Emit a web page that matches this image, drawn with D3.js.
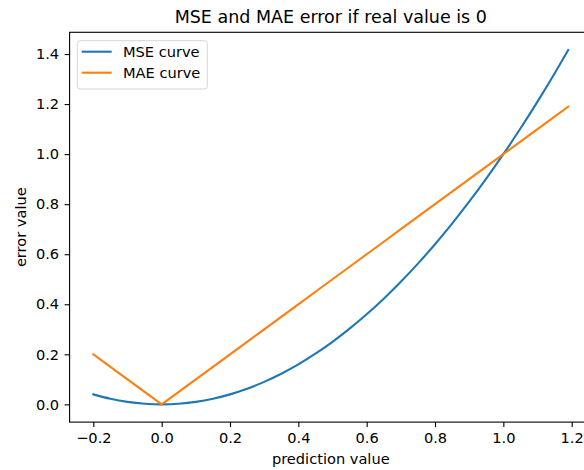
<!DOCTYPE html>
<html>
<head>
<meta charset="utf-8">
<script src="https://cdn.jsdelivr.net/npm/d3@7"></script>
<style>
  html, body { margin: 0; padding: 0; background: #fff; }
  svg { display: block; font-family: "DejaVu Sans", sans-serif; }
</style>
</head>
<body>
<svg id="chart" width="584" height="470"></svg>
<script>
// prediction values (real value is 0)
const predictions = [-0.2, -0.15, -0.1, -0.05, 0, 0.05, 0.1, 0.15, 0.2, 0.25, 0.3, 0.35, 0.4, 0.45,
  0.5, 0.55, 0.6, 0.65, 0.7, 0.75, 0.8, 0.85, 0.9, 0.95, 1.0, 1.05, 1.1, 1.15, 1.19];
// squared error for each prediction
const mseValues = [0.04, 0.0225, 0.01, 0.0025, 0, 0.0025, 0.01, 0.0225, 0.04, 0.0625, 0.09, 0.1225,
  0.16, 0.2025, 0.25, 0.3025, 0.36, 0.4225, 0.49, 0.5625, 0.64, 0.7225, 0.81, 0.9025, 1.0, 1.1025,
  1.21, 1.3225, 1.4161];
// absolute error for each prediction
const maeValues = [0.2, 0.15, 0.1, 0.05, 0, 0.05, 0.1, 0.15, 0.2, 0.25, 0.3, 0.35, 0.4, 0.45, 0.5,
  0.55, 0.6, 0.65, 0.7, 0.75, 0.8, 0.85, 0.9, 0.95, 1.0, 1.05, 1.1, 1.15, 1.19];
const seriesNames = ["MSE curve", "MAE curve"];
const seriesColors = ["#1f77b4", "#ff7f0e"];
const xTicks = [-0.2, 0.0, 0.2, 0.4, 0.6, 0.8, 1.0, 1.2];
const yTicks = [0.0, 0.2, 0.4, 0.6, 0.8, 1.0, 1.2, 1.4];
const titleText = "MSE and MAE error if real value is 0";
const xLabelText = "prediction value";
const yLabelText = "error value";

const svg = d3.select("#chart");
const plot = { left: 69.6, right: 592, top: 32.3, bottom: 422.1 };
const fontSize = 14.6;

// axis limits padded by 5% like the usual auto-scaling
function padded(values) {
  const [lo, hi] = d3.extent(values);
  const m = (hi - lo) * 0.05;
  return [lo - m, hi + m];
}
const x = d3.scaleLinear().domain(padded(predictions)).range([plot.left, plot.right]);
const y = d3.scaleLinear().domain(padded(mseValues.concat(maeValues))).range([plot.bottom, plot.top]);

const fmt = v => d3.format(".1f")(v).replace("-", "\u2212");

// x axis
const xAxis = svg.append("g")
  .attr("transform", `translate(0,${plot.bottom})`)
  .call(d3.axisBottom(x).tickValues(xTicks).tickFormat(fmt).tickSize(5).tickPadding(5.5));
// y axis
const yAxis = svg.append("g")
  .attr("transform", `translate(${plot.left},0)`)
  .call(d3.axisLeft(y).tickValues(yTicks).tickFormat(fmt).tickSize(5).tickPadding(5.5));

[xAxis, yAxis].forEach(g => {
  g.select(".domain").remove();
  g.selectAll(".tick line").attr("stroke", "#000").attr("stroke-width", 1.1);
  g.selectAll(".tick text").attr("fill", "#000")
    .style("font-family", "DejaVu Sans").style("font-size", fontSize + "px");
});

// lines: the squared error is a smooth parabola, the absolute error has a sharp kink at 0
const curves = [d3.curveMonotoneX, d3.curveLinear];
[mseValues, maeValues].forEach((vals, i) => {
  const line = d3.line()
    .curve(curves[i])
    .x((d, j) => x(predictions[j]))
    .y(d => y(d));
  svg.append("path")
    .attr("d", line(vals))
    .attr("fill", "none")
    .attr("stroke", seriesColors[i])
    .attr("stroke-width", 2.1)
    .attr("stroke-linejoin", "round")
    .attr("stroke-linecap", "square");
});

// axes frame
svg.append("rect")
  .attr("x", plot.left).attr("y", plot.top)
  .attr("width", plot.right - plot.left).attr("height", plot.bottom - plot.top)
  .attr("fill", "none").attr("stroke", "#000").attr("stroke-width", 1.1);

// title
svg.append("text")
  .attr("x", (plot.left + plot.right) / 2).attr("y", 22.5)
  .attr("text-anchor", "middle")
  .style("font-size", "17.5px")
  .text(titleText);

// axis labels
svg.append("text")
  .attr("x", (plot.left + plot.right) / 2).attr("y", 464)
  .attr("text-anchor", "middle")
  .style("font-size", fontSize + "px")
  .text(xLabelText);
svg.append("text")
  .attr("transform", `translate(26,${(plot.top + plot.bottom) / 2}) rotate(-90)`)
  .attr("text-anchor", "middle")
  .style("font-size", fontSize + "px")
  .text(yLabelText);

// legend
const legend = svg.append("g").attr("transform", "translate(77.3,40.7)");
legend.append("rect")
  .attr("width", 130).attr("height", 48.3)
  .attr("rx", 3).attr("ry", 3)
  .attr("fill", "#fff").attr("fill-opacity", 0.8)
  .attr("stroke", "#d6d6d6").attr("stroke-width", 1);
seriesNames.forEach((name, i) => {
  const cy = 11 + i * 21;
  legend.append("line")
    .attr("x1", 4.4).attr("x2", 34.4)
    .attr("y1", cy).attr("y2", cy)
    .attr("stroke", seriesColors[i]).attr("stroke-width", 2.1);
  legend.append("text")
    .attr("x", 45.7).attr("y", cy + 5.2)
    .style("font-size", fontSize + "px")
    .text(name);
});
</script>
</body>
</html>
